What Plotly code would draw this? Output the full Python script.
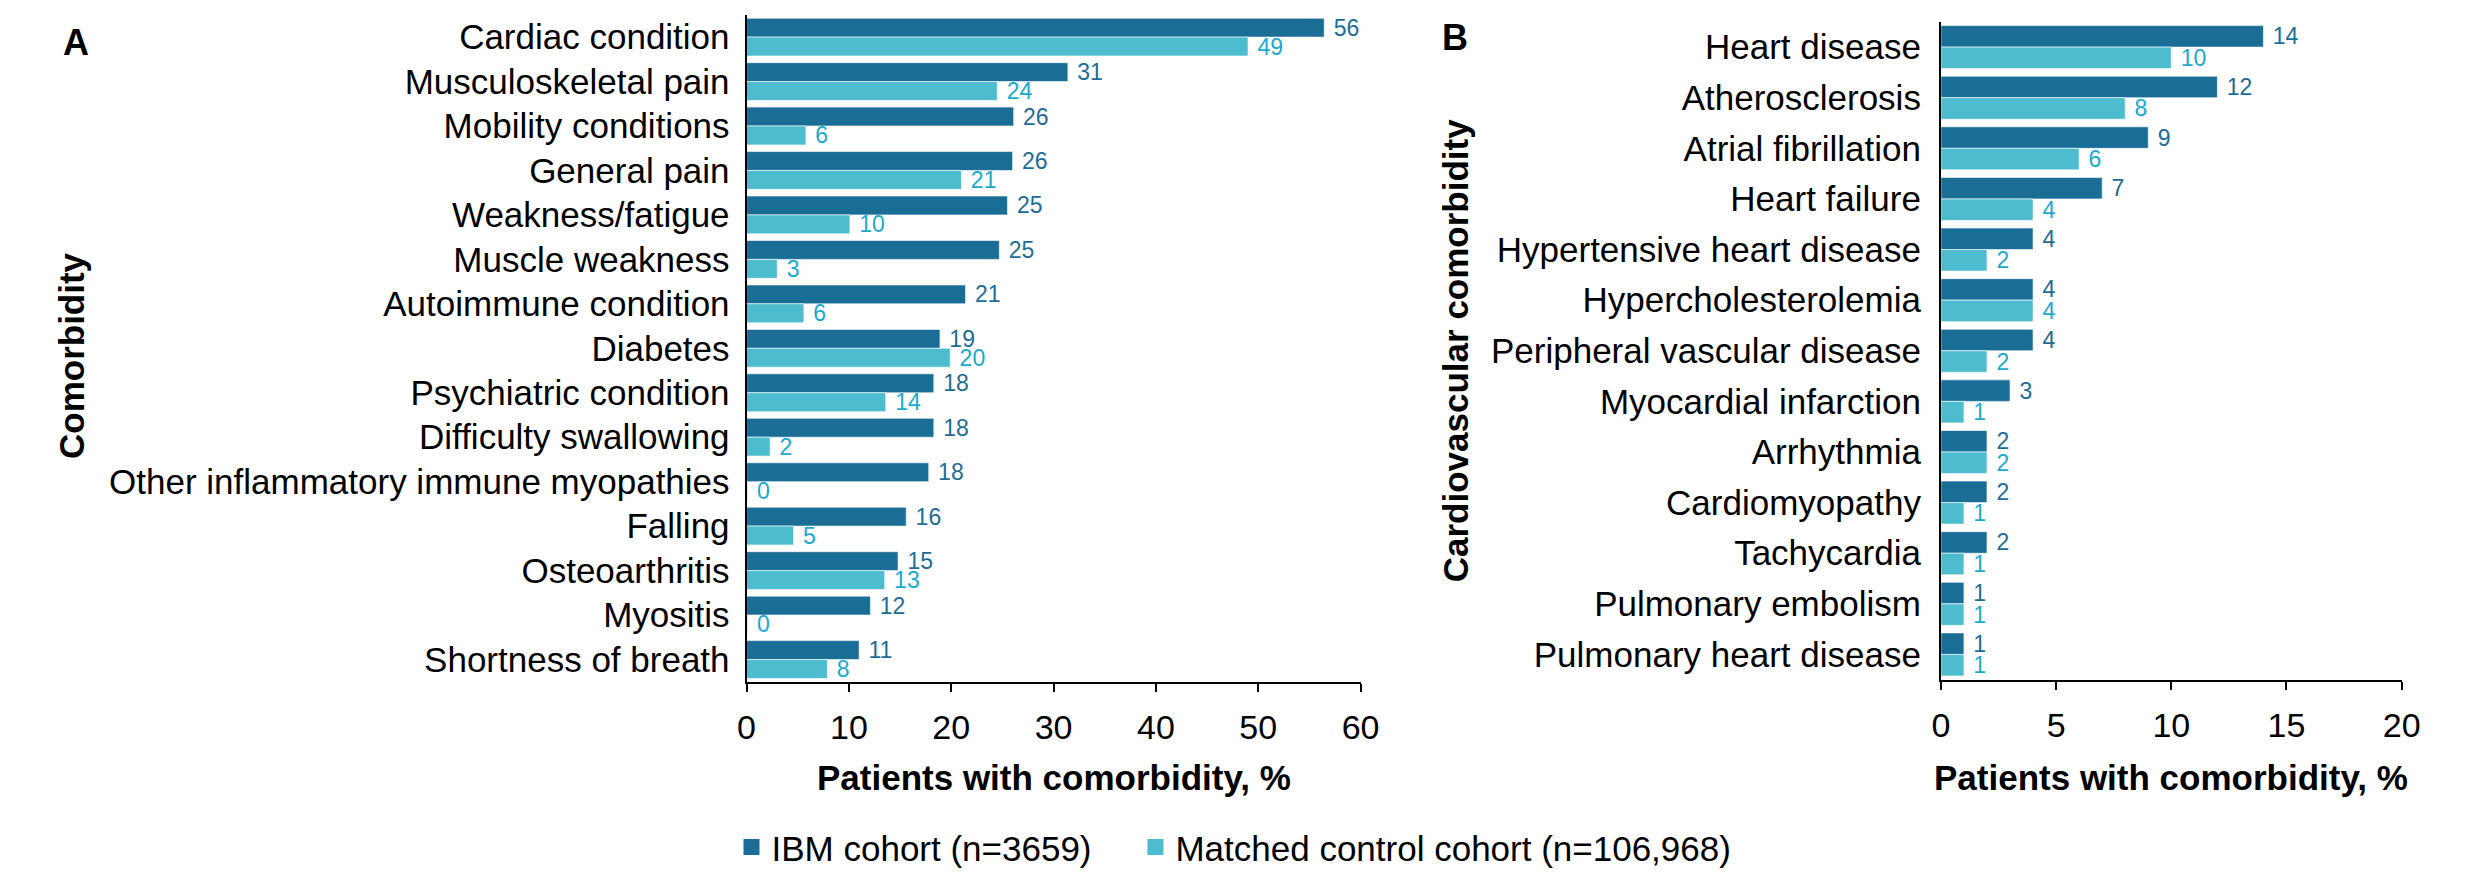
import plotly.graph_objects as go

# ---------------- data ----------------
cats_a = ["Cardiac condition", "Musculoskeletal pain", "Mobility conditions", "General pain",
          "Weakness/fatigue", "Muscle weakness", "Autoimmune condition", "Diabetes",
          "Psychiatric condition", "Difficulty swallowing", "Other inflammatory immune myopathies",
          "Falling", "Osteoarthritis", "Myositis", "Shortness of breath"]
ibm_a = [56.45, 31.4, 26.1, 26.0, 25.5, 24.7, 21.4, 18.9, 18.3, 18.3, 17.8, 15.6, 14.8, 12.1, 11.0]
ctrl_a = [49.0, 24.5, 5.8, 21.0, 10.1, 3.0, 5.6, 19.9, 13.6, 2.3, 0.1, 4.6, 13.5, 0.1, 7.9]
ibm_a_lbl = [56, 31, 26, 26, 25, 25, 21, 19, 18, 18, 18, 16, 15, 12, 11]
ctrl_a_lbl = [49, 24, 6, 21, 10, 3, 6, 20, 14, 2, 0, 5, 13, 0, 8]

cats_b = ["Heart disease", "Atherosclerosis", "Atrial fibrillation", "Heart failure",
          "Hypertensive heart disease", "Hypercholesterolemia", "Peripheral vascular disease",
          "Myocardial infarction", "Arrhythmia", "Cardiomyopathy", "Tachycardia",
          "Pulmonary embolism", "Pulmonary heart disease"]
ibm_b = [14, 12, 9, 7, 4, 4, 4, 3, 2, 2, 2, 1, 1]
ctrl_b = [10, 8, 6, 4, 2, 4, 2, 1, 2, 1, 1, 1, 1]

ticks_a = [0, 10, 20, 30, 40, 50, 60]
ticks_b = [0, 5, 10, 15, 20]

series_names = ["IBM cohort (n=3659)", "Matched control cohort (n=106,968)"]

# ---------------- style ----------------
FONT = "Liberation Sans, Arial, Helvetica, sans-serif"
DARK = "#1A6E96"
LIGHT = "#4DBCCE"
DARK_TXT = "#1E6C95"
LIGHT_TXT = "#1BA9CD"
W, H = 2478, 877
NB = "\u00a0"


def lbl(vals):
    return [NB + str(v) for v in vals]


fig = go.Figure()

def add_bars(cats, ibm, ctrl, ibm_l, ctrl_l, xa, ya):
    for vals, labels, col, tcol, name in [(ibm, ibm_l, DARK, DARK_TXT, series_names[0]),
                                          (ctrl, ctrl_l, LIGHT, LIGHT_TXT, series_names[1])]:
        fig.add_trace(go.Bar(
            y=cats, x=vals, orientation="h", name=name, showlegend=False,
            marker=dict(color=col, line=dict(color="rgba(255,255,255,0.6)", width=1)),
            text=lbl(labels), textposition="outside", cliponaxis=False,
            constraintext="none",
            textfont=dict(family=FONT, size=23, color=tcol),
            xaxis=xa, yaxis=ya, hoverinfo="skip"))

add_bars(cats_a, ibm_a, ctrl_a, ibm_a_lbl, ctrl_a_lbl, "x", "y")
add_bars(cats_b, ibm_b, ctrl_b, ibm_b, ctrl_b, "x2", "y2")

# legend proxies (extra trailing spaces widen the gap between the two entries)
legend_labels = [series_names[0] + NB * 4, series_names[1]]
for col, name in [(DARK, legend_labels[0]), (LIGHT, legend_labels[1])]:
    fig.add_trace(go.Scatter(x=[None], y=[None], mode="markers", name=name,
                             marker=dict(symbol="square", size=16, color=col),
                             xaxis="x", yaxis="y", showlegend=True))

xcommon = dict(showgrid=False, zeroline=False, showline=True, linecolor="black", linewidth=2,
               ticks="outside", ticklen=8, tickwidth=2, tickcolor="black",
               tickfont=dict(family=FONT, size=34, color="black"), ticklabelstandoff=6)
ycommon = dict(showgrid=False, zeroline=False, showline=True, linecolor="black", linewidth=2,
               ticks="", autorange="reversed", type="category",
               tickfont=dict(family=FONT, size=35, color="black"))

fig.update_layout(
    width=W, height=H, margin=dict(l=0, r=0, t=0, b=0),
    paper_bgcolor="white", plot_bgcolor="white",
    barmode="group", bargap=0.15, bargroupgap=0,
    font=dict(family=FONT, color="black"),
    xaxis=dict(domain=[746 / W, 1367 / W], range=[0, 60], tickvals=ticks_a, anchor="y", **xcommon),
    yaxis=dict(domain=[1 - 688 / H, 1 - 15 / H], categoryorder="array", categoryarray=cats_a,
               anchor="x", ticklabelstandoff=8, **ycommon),
    xaxis2=dict(domain=[1954 / W, 2420 / W], range=[0, 20], tickvals=ticks_b, anchor="y2", **xcommon),
    yaxis2=dict(domain=[1 - 686 / H, 1 - 22 / H], categoryorder="array", categoryarray=cats_b,
                anchor="x2", ticklabelstandoff=11, **ycommon),
    legend=dict(orientation="h", x=0.5, xanchor="center", y=1 - 855 / H, yanchor="middle",
                font=dict(family=FONT, size=35, color="black"), bgcolor="rgba(0,0,0,0)",
                itemsizing="trace"),
    showlegend=True,
)

bold = dict(family=FONT, size=35, color="black")
ann = [
    dict(text="<b>A</b>", x=68 / W, y=1 - 43 / H, font=dict(family=FONT, size=36, color="black")),
    dict(text="<b>B</b>", x=1463 / W, y=1 - 38 / H, font=dict(family=FONT, size=36, color="black")),
    dict(text="<b>Comorbidity</b>", x=63 / W, y=1 - 359 / H, textangle=-90, font=bold),
    dict(text="<b>Cardiovascular comorbidity</b>", x=1463 / W, y=1 - 354 / H, textangle=-90, font=bold),
    dict(text="<b>Patients with comorbidity, %</b>", x=(746 + 1367) / 2 / W, y=1 - 785 / H, font=bold),
    dict(text="<b>Patients with comorbidity, %</b>", x=(1954 + 2420) / 2 / W, y=1 - 785 / H, font=bold),
]
for a in ann:
    a.update(xref="paper", yref="paper", showarrow=False, xanchor="center", yanchor="middle")
    fig.add_annotation(**a)

fig.write_html("out.html", config={"displayModeBar": False},
               post_script="document.body.style.margin='0';document.body.style.overflow='hidden';")
